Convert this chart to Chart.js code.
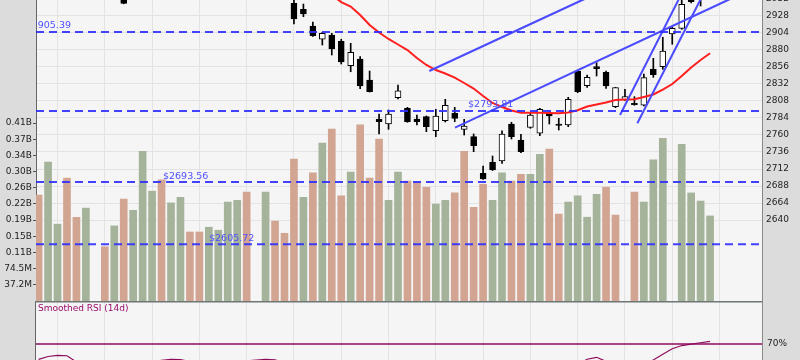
<!DOCTYPE html>
<html><head><meta charset="utf-8">
<script src="https://cdn.jsdelivr.net/npm/chart.js@4.4.0/dist/chart.umd.min.js"></script>
<style>
html,body{margin:0;padding:0;width:800px;height:360px;overflow:hidden;background:#dcdcdc;}
#main{position:absolute;left:0;top:-20px;}
#rsi{position:absolute;left:0;top:301px;}
</style></head><body>
<canvas id="main" width="800" height="321"></canvas>
<canvas id="rsi" width="800" height="100"></canvas>
<script>
// ---- data (one entry per trading slot; null = no data) ----
const opens = [2992,2984,2993,3000,2988,2974,null,2980,2966,2972,2952,2959,2969,2977,2968,2975,2983,2975,2967,2972,2978,2983,2989,null,2977,2983,2970,2945.7,2937.2,2913.7,2895.0,2901.0,2892.1,2857.7,2867.2,2837.5,2782.1,2775.5,2812.6,2797.6,2782.5,2785.8,2766.0,2780.1,2790.6,2768.0,2757.6,2705.9,2721.4,2723.3,2775.5,2752.9,2770.8,2762.4,2790.6,2775.5,2774.1,2850.2,2829.5,2856.3,2848.4,2799.9,2809.3,2804.7,2801.9,2853.1,2856.3,2902.4,2910.4,2955,2952,2963];
const highs = [2998,2996,3004,3003,2990,2986,null,2982,2978,2974,2962,2972,2980,2979,2978,2986,2985,2977,2975,2980,2986,2992,2990,null,2986,2984,2972,2955,2944.7,2919.3,2904.8,2903.4,2895.0,2889.3,2870.4,2850.2,2789.6,2795.2,2830.5,2799.0,2788.2,2786.8,2796.2,2810.3,2799.0,2782.1,2761.4,2716.2,2730.3,2766.0,2777.9,2760.9,2791.0,2797.6,2792.8,2783.5,2813.1,2851.6,2844.6,2861.9,2850.2,2827.2,2824.4,2814.0,2846.0,2868.1,2897.8,2912.7,2953.2,2958,2968,2975];
const lows = [2980,2980,2990,2985,2970,2971,null,2962,2963,2945,2951.5,2957,2966,2965,2966,2972,2972,2964,2964,2969,2975,2980,2974,null,2974,2966,2953,2916.5,2926.8,2898.9,2886.9,2872.8,2860.1,2849.2,2825.3,2820.6,2761.4,2768.0,2810.7,2777.9,2774.1,2764.6,2757.6,2778.3,2778.7,2759.9,2736.4,2697.2,2709.9,2720.0,2754.3,2735.0,2769.4,2759.0,2775.5,2767.0,2771.7,2819.6,2827.2,2843.2,2825.8,2798.5,2808.6,2801.9,2801.1,2841.3,2852.6,2887.9,2909.0,2946.1,2941.9,2955];
const closes = [2984,2993,3000,2988,2974,2982,null,2966,2974,2945.5,2959,2969,2977,2968,2975,2983,2975,2967,2972,2978,2983,2989,2977,null,2983,2970,2956,2923.6,2930.6,2900.0,2903.4,2881.3,2862.9,2876.6,2829.1,2821.0,2778.7,2789.6,2822.4,2778.7,2778.7,2771.7,2786.8,2801.8,2783.5,2772.7,2744.9,2697.9,2710.6,2761.4,2757.6,2736.4,2788.2,2796.2,2786.8,2773.6,2810.3,2821.0,2841.3,2853.5,2829.1,2826.7,2814.0,2802.7,2840.8,2845.0,2878.4,2910.4,2944.3,2948.0,2963,2971];
// volume in millions
const volumes = [244,320,177,283,193,214,null,125,173,235,209,345,253,279,226,239,159,159,170,163,228,232,251,null,251,184,156,327,239,295,364,396,242,297,406,283,373,232,297,276,274,262,223,232,249,345,216,269,232,295,276,292,292,338,350,200,228,242,193,246,262,198,null,251,228,325,375,null,361,249,230,196];
const movingAvg = [null,null,null,null,null,null,null,null,null,null,null,null,null,null,null,null,null,null,null,null,null,null,null,null,null,null,null,null,null,null,2966,2957.5,2947.5,2941.2,2929.2,2915.1,2904.5,2895.4,2887.6,2879.8,2868.6,2858.7,2851.6,2846.7,2841.0,2833.3,2825.5,2815.0,2805.1,2799.5,2794.5,2791.4,2791.4,2791.3,2791.0,2790.6,2791.7,2794.8,2800.2,2803.0,2805.8,2809.3,2810.0,2810.3,2813.6,2817.1,2824.1,2831.9,2843.2,2855.2,2865.7,2875.2];
const rsi = [59.07,61.07,61.93,61.6,57.1,55.5,null,53.0,53.5,51.0,52.5,55.0,57.0,58.3,59.07,58.86,57.5,55.5,55.0,55.8,56.5,57.8,58.0,null,59.07,58.7,56.5,52,48,44,41,38,35,33,31,29,27,27,28,28,28,27,28,30,31,31,30,27,27,30,33,33,36,40,43,45,49,55,59.14,60.5,57.6,54.5,54.8,54.5,56.5,58.57,62.7,66.6,68.9,69.9,70.9,71.9];
const levels = [2905.39, 2793.81, 2693.56, 2605.72];
// trend lines: [slot1, price1, slot2, price2]
const trendLines = [[41.31,2850.2,60,2965.9],[44.03,2770.26,76.4,2972.2],[61.48,2788.17,69,2985.8],[63.31,2776.46,71,2977.5]];
const gridSlots = [2,7,12,17,22,27,32,37,42,47,52,57,62,67,72];
const priceTicks = [2640,2664,2688,2712,2736,2760,2784,2808,2832,2856,2880,2904,2928,2952,2976];
const volTicks = [37.25,74.5,111.75,149,186.25,223.5,260.75,298,335.25,372.5,409.75];
const volTickLabels = ['37.2M','74.5M','0.11B','0.15B','0.19B','0.22B','0.26B','0.30B','0.34B','0.37B','0.41B'];
const rsiTicks = [30,70];
const rsiLevel = 70;

// ---- layout / style config ----
const X_MIN = -0.275, X_MAX = 76.49;
const levelLabelSlots = [-1.37, 45.41, 13.15, 18.02];
const FONT = 'DejaVu Sans';
Chart.defaults.font.family = FONT;
Chart.defaults.font.size = 9;
Chart.defaults.color = '#222';
Chart.defaults.animation = false;
Chart.defaults.plugins.legend.display = false;
Chart.defaults.plugins.tooltip.enabled = false;

const idx = opens.map((_, i) => i);
const present = idx.filter(i => closes[i] !== null);
const GREEN = '#a4b399', SALMON = '#d1a592';
function prevClose(i){ for (let j=i-1;j>=0;j--) if (closes[j]!==null) return closes[j]; return opens[i]; }

const volData = idx.filter(i => volumes[i] !== null).map(i => ({x:i, y:volumes[i]}));
const volColors = idx.filter(i => volumes[i] !== null).map(i => closes[i] > prevClose(i) ? GREEN : SALMON);
const wickData = present.map(i => ({x:i, y:[lows[i], highs[i]]}));
const bodyData = present.map(i => ({x:i, y:[opens[i], closes[i]]}));
const bodyColors = present.map(i => closes[i] >= opens[i] ? '#ffffff' : '#000000');
const maData = idx.filter(i => movingAvg[i] !== null).map(i => ({x:i, y:movingAvg[i]}));

const zeroPad = s => { s.paddingTop = 0; s.paddingBottom = 0; s.paddingLeft = 0; s.paddingRight = 0; };
const xAxis = {
  type:'linear', min:X_MIN, max:X_MAX, offset:false, display:true,
  ticks:{display:false}, grid:{color:'#e3e3e3', drawTicks:false, offset:false}, border:{display:false},
  afterBuildTicks: s => { s.ticks = gridSlots.map(v => ({value:v})); },
  afterFit: s => { s.height = 0; zeroPad(s); }
};

const datasets = [
  {type:'bar', label:'vol', data:volData, yAxisID:'yv', backgroundColor:volColors, barThickness:7, grouped:false, order:10, borderWidth:0},
  {type:'bar', label:'wick', data:wickData, yAxisID:'y', backgroundColor:'#000', barThickness:1, grouped:false, order:9, borderWidth:0},
  {type:'bar', label:'body', data:bodyData, yAxisID:'y', backgroundColor:bodyColors, borderColor:'#000', borderWidth:1, borderSkipped:false, barThickness:6, grouped:false, order:8},
  {type:'line', label:'ma', data:maData, yAxisID:'y', borderColor:'#ff1f1f', borderWidth:2, pointRadius:0, order:7, tension:0}
];
trendLines.forEach((t, k) => datasets.push({type:'line', label:'trend'+k, data:[{x:t[0],y:t[1]},{x:t[2],y:t[3]}], yAxisID:'y', borderColor:'#4b4bff', borderWidth:2, pointRadius:0, order:6}));
levels.forEach((l, k) => datasets.push({type:'line', label:'lvl'+k, data:[{x:X_MIN,y:l},{x:X_MAX,y:l}], yAxisID:'y', borderColor:'rgba(45,45,255,0.9)', borderWidth:2, borderDash:[8,5], pointRadius:0, order:5}));

const mainPlugin = {
  id:'mainDeco',
  beforeDraw(chart){
    const {ctx, chartArea:a} = chart;
    ctx.save(); ctx.fillStyle = '#f5f5f5'; ctx.fillRect(a.left, a.top, a.right-a.left, a.bottom-a.top); ctx.restore();
  },
  afterDatasetsDraw(chart){
    const {ctx, chartArea:a, scales} = chart;
    ctx.save();
    ctx.beginPath(); ctx.rect(a.left, a.top, a.right-a.left, a.bottom-a.top); ctx.clip();
    ctx.font = '9.5px ' + FONT; ctx.fillStyle = '#5050ff'; ctx.textBaseline = 'middle'; ctx.textAlign = 'left';
    levels.forEach((l, k) => {
      const x = scales.x.getPixelForValue(levelLabelSlots[k]);
      const y = scales.y.getPixelForValue(l) - 6;
      ctx.fillText('$' + l.toFixed(2), x, y);
    });
    ctx.restore();
  }
};

new Chart(document.getElementById('main'), {
  type:'bar',
  data:{datasets},
  options:{
    responsive:false, devicePixelRatio:1, layout:{padding:0},
    scales:{
      x: xAxis,
      y:{type:'linear', position:'right', min:2525.83, max:2978.58,
         afterBuildTicks: s => { s.ticks = priceTicks.map(v => ({value:v})); },
         ticks:{padding:4, callback: v => String(v), font:{size:9}},
         grid:{color:'#e3e3e3', drawTicks:false}, border:{display:true, color:'#888', width:1},
         afterFit: s => { s.width = 38; zeroPad(s); }},
      yv:{type:'linear', position:'left', min:0, max:739.5,
         afterBuildTicks: s => { s.ticks = volTicks.map(v => ({value:v})); },
         ticks:{padding:1, callback: (v) => volTickLabels[volTicks.indexOf(v)] ?? ''},
         grid:{drawOnChartArea:false, drawTicks:true, tickLength:3, tickColor:'#555'}, border:{display:true, color:'#666', width:1},
         afterFit: s => { s.width = 36; zeroPad(s); }}
    }
  },
  plugins:[mainPlugin]
});

// ---- RSI panel ----
const rsiData = idx.filter(i => rsi[i] !== null).map(i => ({x:i, y:rsi[i]}));
const RSI_COLOR = '#8e0b5c';
const rsiPlugin = {
  id:'rsiDeco',
  beforeDraw(chart){
    const {ctx, chartArea:a} = chart;
    ctx.save(); ctx.fillStyle = '#f5f5f5'; ctx.fillRect(a.left, a.top, a.right-a.left, a.bottom-a.top); ctx.restore();
  },
  afterDraw(chart){
    const {ctx, chartArea:a} = chart;
    ctx.save();
    ctx.strokeStyle = '#666'; ctx.lineWidth = 1;
    ctx.beginPath(); ctx.moveTo(a.left - 0.5, a.top); ctx.lineTo(a.left - 0.5, a.bottom); ctx.stroke();
    ctx.strokeStyle = '#6e7676'; ctx.lineWidth = 1.6;
    ctx.beginPath(); ctx.moveTo(a.left - 1, a.top + 0.8); ctx.lineTo(a.right, a.top + 0.8); ctx.stroke();
    ctx.font = '9px ' + FONT; ctx.fillStyle = '#990a6a'; ctx.textBaseline = 'middle'; ctx.textAlign = 'left';
    ctx.fillText('Smoothed RSI (14d)', a.left + 2, a.top + 7.5);
    ctx.restore();
  }
};
new Chart(document.getElementById('rsi'), {
  type:'line',
  data:{datasets:[
    {label:'rsi', data:rsiData, borderColor:RSI_COLOR, borderWidth:1.2, pointRadius:0, spanGaps:true, tension:0},
    {label:'lvl', data:[{x:X_MIN,y:rsiLevel},{x:X_MAX,y:rsiLevel}], borderColor:RSI_COLOR, borderWidth:1.5, pointRadius:0}
  ]},
  options:{
    responsive:false, devicePixelRatio:1, layout:{padding:{left:36, right:0, top:0, bottom:0}},
    scales:{
      x: Object.assign({}, xAxis),
      y:{type:'linear', position:'right', min:29.29, max:100.71,
         afterBuildTicks: s => { s.ticks = rsiTicks.map(v => ({value:v})); },
         ticks:{padding:5, callback: v => v + '%'},
         grid:{drawOnChartArea:false, drawTicks:false}, border:{display:true, color:'#888', width:1},
         afterFit: s => { s.width = 38; zeroPad(s); }}
    }
  },
  plugins:[rsiPlugin]
});
</script>
</body></html>
